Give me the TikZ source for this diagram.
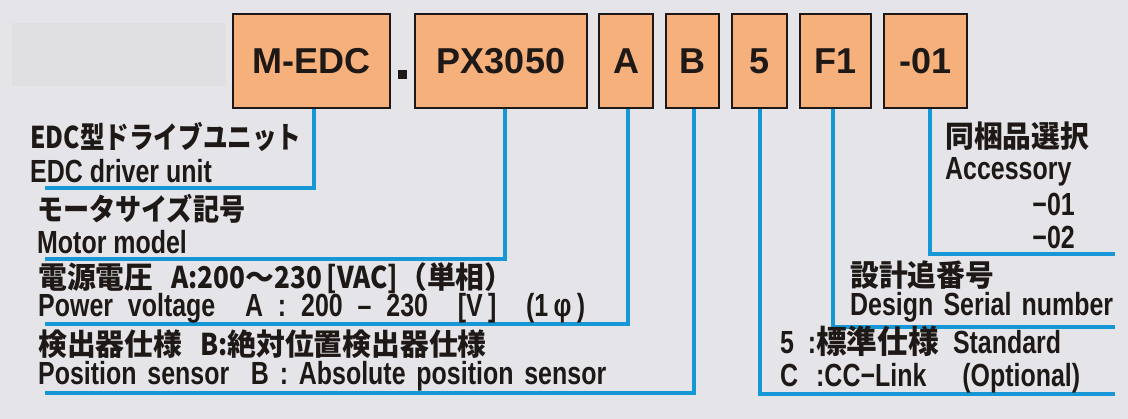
\documentclass[tikz,border=0pt]{standalone}
\usepackage{fontspec}
\newfontfamily\jp[FakeStretch=0.96]{Noto Sans CJK JP}
\newfontfamily\jpk[FakeStretch=0.87]{Noto Sans CJK JP}
\newfontfamily\jpe[FakeStretch=0.82]{Noto Sans CJK JP}
\newfontfamily\en[FakeStretch=0.78]{Liberation Sans Bold}
\newfontfamily\bx{Liberation Sans}
\definecolor{bgc}{RGB}{229,229,233}
\definecolor{panelc}{RGB}{224,224,227}
\definecolor{boxc}{RGB}{245,176,124}
\definecolor{linec}{RGB}{22,152,214}
\definecolor{ink}{RGB}{30,25,22}
\tikzset{
 codebox/.style={draw=ink, line width=1.5pt, fill=boxc, minimum height=94pt, inner sep=0pt, font=\bx\bfseries\fontsize{36}{36}\selectfont, text=ink},
 lead/.style={draw=linec, line width=4pt},
 jpl/.style={anchor=base west, inner sep=0pt, font=\jp\bfseries\fontsize{30}{30}\selectfont, text=ink},
 enl/.style={anchor=base west, inner sep=0pt, font=\en\fontsize{32}{32}\selectfont, text=ink},
}
\begin{document}
\begin{tikzpicture}[x=1pt,y=-1pt]
\fill[bgc] (0,0) rectangle (1128,419);
\useasboundingbox (0,0) rectangle (1128,419);
\fill[panelc] (12,23) rectangle (226,86);
% code boxes
\node[codebox, minimum width=157pt] (bM) at (311.5,61) {M-EDC};
\node[fill=ink, minimum size=9pt, inner sep=0pt] (dot) at (402,75) {};
\node[codebox, minimum width=172pt] (bP) at (501,61) {PX3050};
\node[codebox, minimum width=54pt] (bA) at (626,61) {A};
\node[codebox, minimum width=53pt] (bB) at (692.5,61) {B};
\node[codebox, minimum width=55pt] (b5) at (759.5,61) {5};
\node[codebox, minimum width=71pt] (bF) at (835.5,61) {F1};
\node[codebox, minimum width=83pt] (b01) at (925.5,61) {-01};
% line end points
\coordinate (e1) at (45,188);
\coordinate (e2) at (45,259);
\coordinate (e3) at (45,324);
\coordinate (e4) at (45,393);
\coordinate (e5) at (1115,254);
\coordinate (e6) at (1115,327);
\coordinate (e7) at (1115,394);
\draw[lead] ([xshift=2.5pt]bM.south) |- (e1);
\draw[lead] ([xshift=4pt]bP.south) |- (e2);
\draw[lead] ([xshift=1.5pt]bA.south) |- (e3);
\draw[lead] ([xshift=1.5pt]bB.south) |- (e4);
\draw[lead] ([xshift=0.5pt]b5.south) |- (e7);
\draw[lead] ([xshift=-2.5pt]bF.south) |- (e6);
\draw[lead] ([xshift=4.5pt]b01.south) |- (e5);
% left texts
\node[jpl, font=\jpe\bfseries\fontsize{30}{30}\selectfont] (t1) at (30,149) {EDC型ドライブユニット};
\node[enl] (t2) at (30,183) {EDC driver unit};
\node[jpl, font=\jpk\bfseries\fontsize{30}{30}\selectfont] (t3) at (37,221) {モータサイズ記号};
\node[enl] (t4) at (37,254) {Motor model};
\node[jpl] (t5) at (38,289) {電源電圧\hspace{18pt}{\jpk A:200}〜{\jpk 230\,[VAC]}（単相）};
\node[enl] (t6) at (38,317) {\makebox[547pt][s]{Power voltage\ \ A : 200 – 230\ \ [V\,]\ \ (1\,φ\,)}};
\node[jpl] (t7) at (38,356) {検出器仕様\hspace{18pt}{\jpk B:}絶対位置検出器仕様};
\node[enl] (t8) at (38,385) {\makebox[568pt][s]{Position sensor\ \ B : Absolute position sensor}};
% right texts
\node[jpl] (r1) at (945,148) {同梱品選択};
\node[enl] (r2) at (945,180) {Accessory};
\node[enl, anchor=base east] (r3) at (1075,216) {−01};
\node[enl, anchor=base east] (r4) at (1075,249) {−02};
\node[jpl] (r5) at (850,287) {設計追番号};
\node[enl] (r6) at (850,316) {\makebox[263pt][s]{Design Serial number}};
\node[enl] (r7) at (780,354) {5\ \ :{\jp\bfseries 標準仕様}\ \ Standard};
\node[enl] (r8) at (780,387) {\makebox[300pt][s]{C\ \ :CC−Link\ \ \ \ (Optional)}};
\end{tikzpicture}
\end{document}
